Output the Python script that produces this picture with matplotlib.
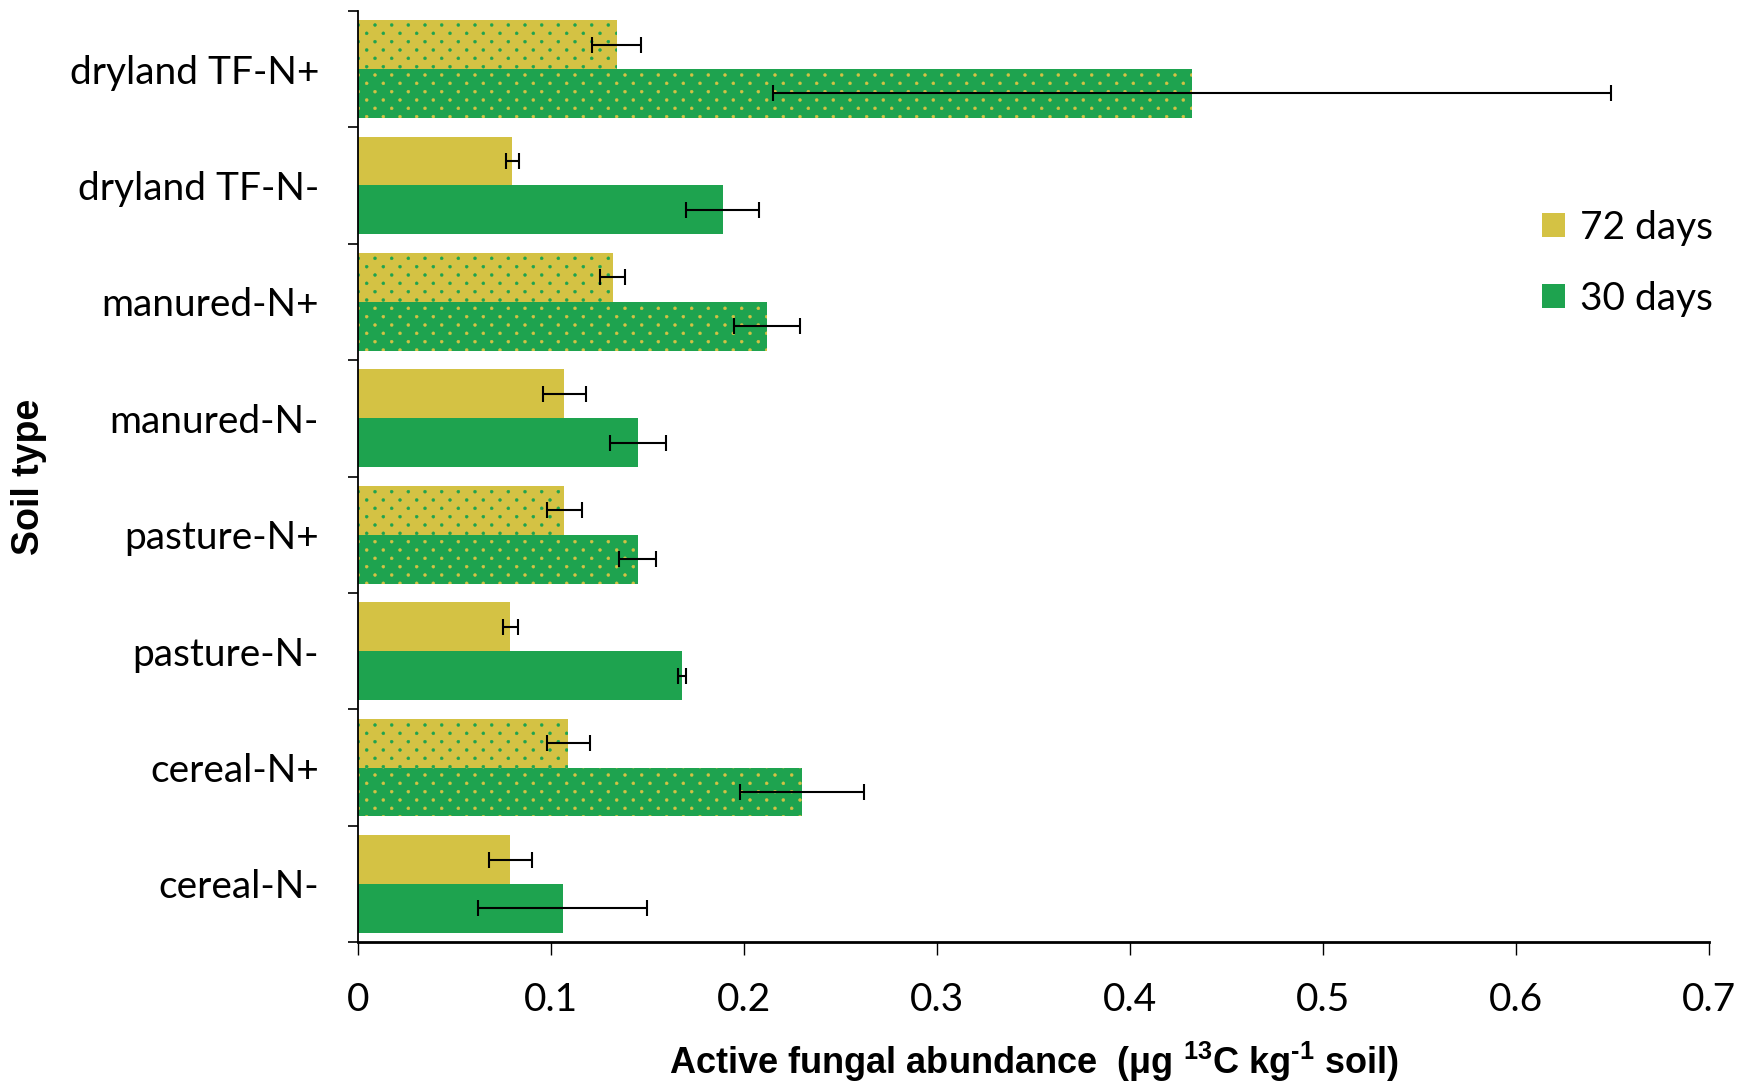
import matplotlib
matplotlib.use("Agg")
import matplotlib.pyplot as plt
import matplotlib.hatch as mh
from matplotlib.path import Path
from matplotlib.patches import Patch
import numpy as np

categories = ["dryland TF-N+", "dryland TF-N-", "manured-N+", "manured-N-",
              "pasture-N+", "pasture-N-", "cereal-N+", "cereal-N-"]
days72 = [0.134, 0.080, 0.132, 0.107, 0.107, 0.079, 0.109, 0.079]
days72_err = [0.0127, 0.0035, 0.0064, 0.011, 0.009, 0.004, 0.011, 0.011]
days30 = [0.432, 0.189, 0.212, 0.145, 0.145, 0.168, 0.230, 0.106]
days30_err = [0.217, 0.019, 0.017, 0.0145, 0.0095, 0.002, 0.032, 0.044]
hatched = [True, False, True, False, True, False, True, False]
xticks = [0, 0.1, 0.2, 0.3, 0.4, 0.5, 0.6, 0.7]
xticklabels = ["0", "0.1", "0.2", "0.3", "0.4", "0.5", "0.6", "0.7"]

YEL = "#D4C244"
GRN = "#1EA34F"


# Dense staggered dot hatch (rows at half spacing), replacing the '.' pattern
class DenseDots(mh.HatchPatternBase):
    filled = True
    size = 0.09

    def __init__(self, hatch, density):
        n = hatch.count('.') * density
        self.num_rows = n
        path = Path.unit_circle()
        self.shape_vertices = path.vertices
        self.shape_codes = path.codes
        if n == 0:
            self.num_shapes = 0
            self.num_vertices = 0
        else:
            self.num_shapes = (n + 1) * (n + 1) + n * n
            self.num_vertices = self.num_shapes * len(self.shape_vertices)

    def set_vertices_and_codes(self, vertices, codes):
        n = self.num_rows
        offset = 1.0 / n
        sv = self.shape_vertices * offset * self.size
        vp, cp = [], []
        for row in range(2 * n + 1):
            if row % 2 == 0:
                cols = np.linspace(0, 1, n + 1)
            else:
                cols = np.linspace(offset / 2, 1 - offset / 2, n)
            for c in cols:
                vp.append(sv + [c, row * offset / 2])
                cp.append(self.shape_codes)
        np.concatenate(vp, out=vertices)
        np.concatenate(cp, out=codes)


mh._hatch_types[:] = [DenseDots if t is mh.SmallFilledCircles else t
                      for t in mh._hatch_types]

plt.rcParams["font.family"] = ["Lato", "DejaVu Sans"]
plt.rcParams["hatch.linewidth"] = 0.3
plt.rcParams["mathtext.fontset"] = "custom"
plt.rcParams["mathtext.rm"] = "Liberation Sans:bold"
plt.rcParams["mathtext.bf"] = "Liberation Sans:bold"
plt.rcParams["mathtext.default"] = "rm"

fig = plt.figure(figsize=(17.52, 10.83), dpi=100)
ax = fig.add_axes([0.2043, 0.130, 0.7712, 0.860])

pos = np.arange(len(categories))
h = 0.42
for i in range(len(categories)):
    ax.barh(pos[i] - h / 2, days72[i], height=h, color=YEL,
            edgecolor=GRN if hatched[i] else YEL, linewidth=0,
            hatch="." if hatched[i] else None)
    ax.barh(pos[i] + h / 2, days30[i], height=h, color=GRN,
            edgecolor=YEL if hatched[i] else GRN, linewidth=0,
            hatch="." if hatched[i] else None)
ax.errorbar(days72, pos - h / 2, xerr=days72_err, fmt="none", ecolor="black",
            elinewidth=1.5, capsize=6, capthick=1.5)
ax.errorbar(days30, pos + h / 2, xerr=days30_err, fmt="none", ecolor="black",
            elinewidth=1.5, capsize=6, capthick=1.5)

ax.set_xlim(0, 0.7)
ax.set_ylim(len(categories) - 0.5, -0.5)
ax.set_xticks(xticks)
ax.set_xticklabels(xticklabels)
ax.set_yticks(pos)
ax.set_yticklabels(categories)
ax.set_yticks(np.arange(len(categories) + 1) - 0.5, minor=True)
ax.tick_params(axis="y", which="major", length=0, pad=28, labelsize=28)
ax.tick_params(axis="y", which="minor", length=7, width=1.2, direction="out")
ax.tick_params(axis="x", which="major", length=9, width=1.0, direction="out",
               pad=20, labelsize=28)
for s in ["top", "right"]:
    ax.spines[s].set_visible(False)
ax.spines["left"].set_linewidth(1.3)
ax.spines["bottom"].set_linewidth(2.0)

ax.set_xlabel(r"Active fungal abundance  (μg $^{13}$C kg$^{\text{-1}}$ soil)",
              fontfamily="Liberation Sans", fontweight="bold", fontsize=26, labelpad=15)
ax.set_ylabel("Soil type", fontfamily="Liberation Sans", fontweight="bold",
              fontsize=27)
ax.yaxis.set_label_coords(-0.23, 0.5)

handles = [Patch(facecolor=YEL, label="72 days"), Patch(facecolor=GRN, label="30 days")]
ax.legend(handles=handles, loc="center left", bbox_to_anchor=(0.876, 0.729),
          frameon=False, fontsize=28, handlelength=0.6, handleheight=0.6,
          handletextpad=0.4, labelspacing=0.9, borderpad=0, borderaxespad=0)

fig.savefig("out.png", dpi=100)
